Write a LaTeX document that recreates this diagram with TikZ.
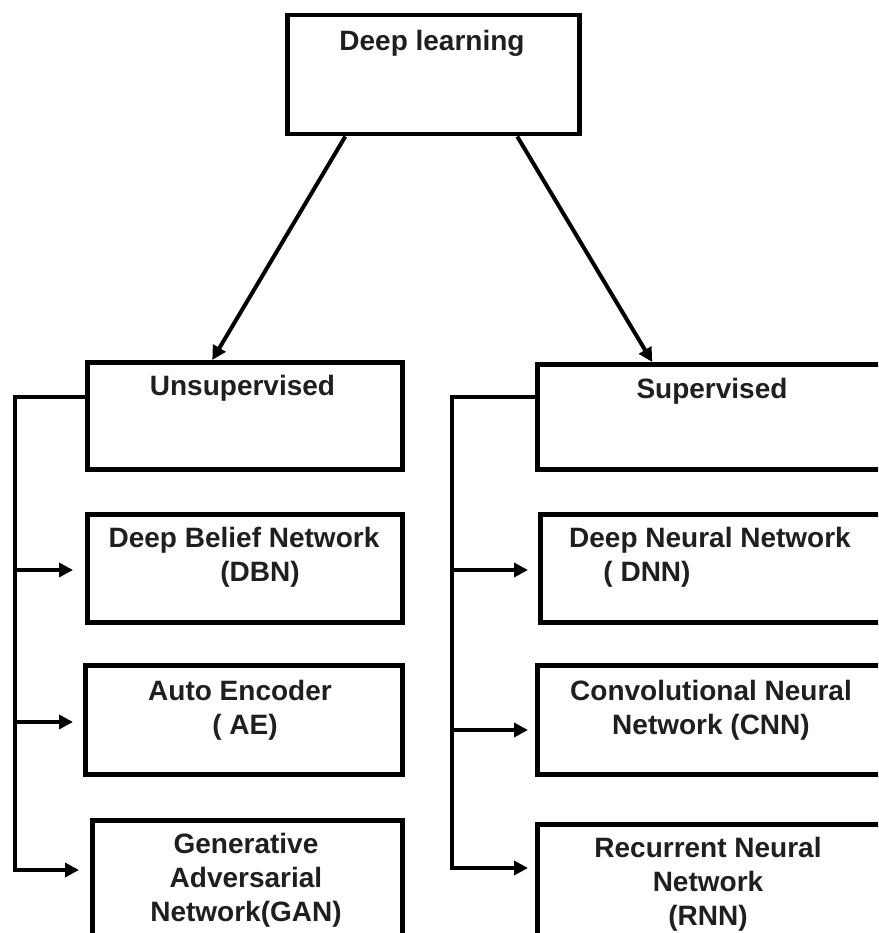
\documentclass[tikz,border=0pt]{standalone}
\usepackage{fontspec}
\setmainfont{Liberation Sans}
\usetikzlibrary{arrows.meta,calc}
\begin{document}
\begin{tikzpicture}[x=1pt,y=-1pt,
  box/.style={draw, line width=4.5pt, rectangle, anchor=north west, inner sep=0pt, fill=white},
  txt/.style={font=\bfseries\fontsize{28}{34}\selectfont, text=black!88, align=center, inner sep=0pt, anchor=north},
  arr/.style={line width=4pt, -{Triangle[length=14pt,width=14pt]}},
]
\clip (0,0) rectangle (878,933);
\fill[white] (0,0) rectangle (878,933);

% boxes
\node[box, minimum width=292pt, minimum height=119pt] (top) at (285,13) {};
\node[box, minimum width=315pt, minimum height=107pt] (unsup) at (85,360) {};
\node[box, minimum width=315pt, minimum height=108pt] (dbn) at (85,512) {};
\node[box, minimum width=317pt, minimum height=109pt] (ae) at (83,663) {};
\node[box, minimum width=310pt, minimum height=130pt] (gan) at (90,818) {};
\node[box, minimum width=355pt, minimum height=105pt] (sup) at (535,362) {};
\node[box, minimum width=352pt, minimum height=108pt] (dnn) at (538,512) {};
\node[box, minimum width=355pt, minimum height=109pt] (cnn) at (535,663) {};
\node[box, minimum width=355pt, minimum height=126pt] (rnn) at (535,822) {};

% texts
\node[txt] (tdl) at (432,30) {Deep learning};
\node[txt] (tun) at (242.5,375) {Unsupervised};
\node[txt] (tdbn) at (244,527) {Deep Belief Network\\\hspace*{32pt}(DBN)};
\node[txt] (tae) at (240,680) {Auto Encoder\\\hspace*{10pt}( AE)};
\node[txt] (tgan) at (246,833) {Generative\\Adversarial\\Network(GAN)};
\node[txt] (tsup) at (712,378) {Supervised};
\node[txt] (tdnn) at (710,527) {Deep Neural Network\\( DNN)\hspace*{126pt}};
\node[txt] (tcnn) at (711,680) {Convolutional Neural\\Network (CNN)};
\node[txt] (trnn) at (708,837) {Recurrent Neural\\Network\\(RNN)};

% top arrows
\draw[arr] ([xshift=-88pt]top.south) -- ([xshift=-32.5pt]unsup.north);
\draw[arr] ([xshift=84pt]top.south) -- ([xshift=-62.5pt]sup.north);

% left bus
\coordinate (lt) at (15,397);
\coordinate (l1) at (15,570);
\coordinate (l2) at (15,722);
\coordinate (l3) at (15,870);
\draw[arr, shorten >=11pt] (lt -| unsup.west) -- (lt) -- (l3) -- (l3 -| gan.west);
\draw[arr, shorten >=12pt] (l1) -- (l1 -| dbn.west);
\draw[arr, shorten >=10pt] (l2) -- (l2 -| ae.west);

% right bus
\coordinate (rt) at (452,397);
\coordinate (r1) at (452,570);
\coordinate (r2) at (452,730);
\coordinate (r3) at (452,868);
\draw[arr, shorten >=7pt] (rt -| sup.west) -- (rt) -- (r3) -- (r3 -| rnn.west);
\draw[arr, shorten >=10pt] (r1) -- (r1 -| dnn.west);
\draw[arr, shorten >=7pt] (r2) -- (r2 -| cnn.west);
\end{tikzpicture}
\end{document}
